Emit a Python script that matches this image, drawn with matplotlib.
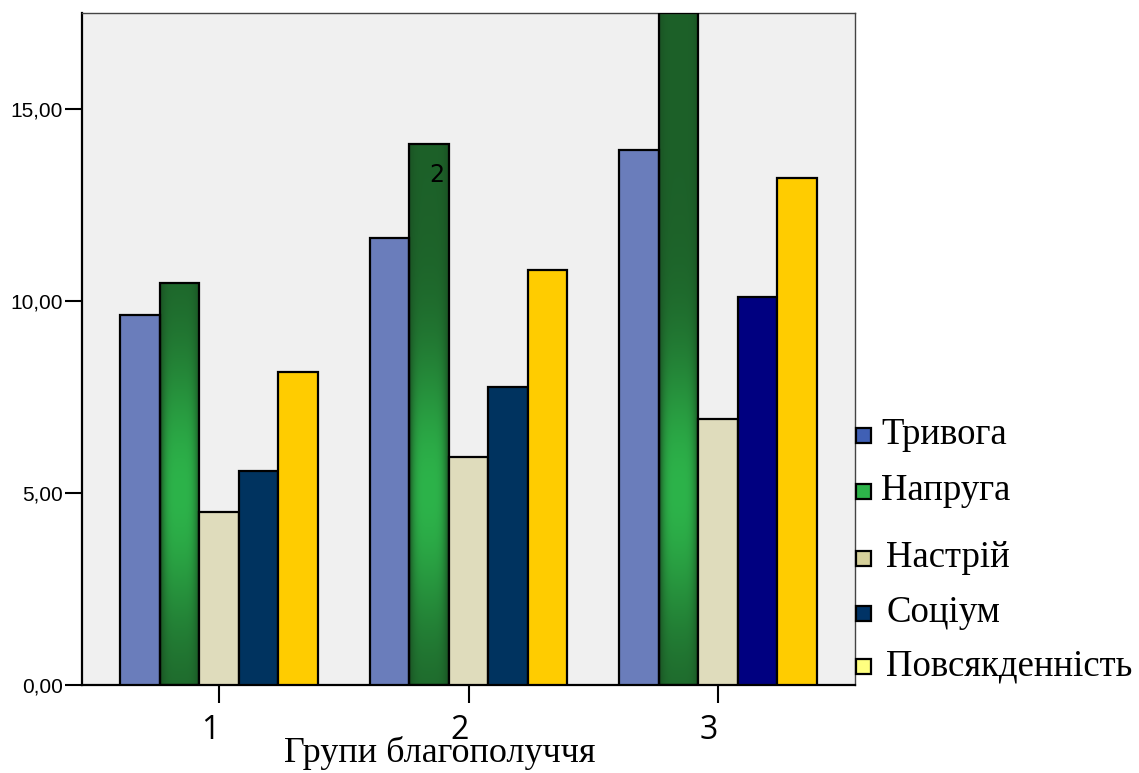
import matplotlib
matplotlib.use("Agg")
import matplotlib.pyplot as plt
import matplotlib.transforms as mtransforms
from matplotlib.patches import Rectangle
import numpy as np

groups = ["1", "2", "3"]
series = ["Тривога", "Напруга", "Настрій", "Соціум", "Повсякденність"]

trivoha = [9.63, 11.63, 13.93]
napruha = [10.46, 14.08, 17.5]
nastrii = [4.5, 5.95, 6.93]
sotsium = [5.57, 7.75, 10.1]
povsyak = [8.16, 10.81, 13.2]
values = [trivoha, napruha, nastrii, sotsium, povsyak]

bar_colors = ["#6a7dbb", None, "#dfdcbc", "#00335f", "#ffcc00"]
sotsium_colors = ["#00335f", "#00335f", "#000080"]
legend_colors = ["#4060b5", "#2db34a", "#d6d09a", "#003366", "#ffff80"]

fig = plt.figure(figsize=(11.39, 7.73), dpi=100)
ax = fig.add_axes([0.072, 0.1138, 0.6787, 0.8694])
ax.set_facecolor("#f0f0f0")

x = np.arange(len(groups))
w = 0.1586
ymax = 17.5

dark = np.array([0x1a, 0x52, 0x23]) / 255
bright = np.array([0x2d, 0xb3, 0x4a]) / 255

def green_fill(x0, x1, top):
    # vertical glow centred low in the bar, darker edges left/right
    ny, nx = 200, 40
    yy = np.linspace(top, 0, ny)[:, None]
    xx = np.linspace(0, 1, nx)[None, :]
    tv = np.exp(-((yy - 5.0) / 3.6) ** 2)
    th = 1 - np.abs(2 * xx - 1) ** 4
    t = (0.15 + 0.85 * tv) * th
    img = dark + (bright - dark) * t[..., None]
    ax.imshow(img, extent=(x0, x1, 0, top), aspect="auto", zorder=2,
              interpolation="bilinear")

for i, (name, vals) in enumerate(zip(series, values)):
    pos = x + (i - 2) * w
    for j, (p, v) in enumerate(zip(pos, vals)):
        if i == 1:
            green_fill(p - w / 2, p + w / 2, v)
            ax.bar(p, v, w, facecolor="none", edgecolor="black",
                   linewidth=1.6, zorder=3)
        else:
            c = sotsium_colors[j] if i == 3 else bar_colors[i]
            ax.bar(p, v, w, color=c, edgecolor="black", linewidth=1.6,
                   zorder=3)

# stray label inside the middle group's bar
ax.text(x[1] - w + 0.03, napruha[1] - 0.8, "2", fontsize=17,
        family="DejaVu Sans", ha="center", va="center", zorder=4)

ax.set_xlim(-0.55, 2.55)
ax.set_ylim(0, ymax)
ax.set_xticks(x)
ax.set_xticklabels(groups, fontsize=23, family="Open Sans")
ax.set_yticks([0, 5, 10, 15])
ax.set_yticklabels(["0,00", "5,00", "10,00", "15,00"], fontsize=15,
                   family="Liberation Sans")
ax.tick_params(axis="y", length=12, width=1.5, pad=2)
ax.tick_params(axis="x", length=13, width=1.5, pad=8)

# group numbers sit a little left of their ticks
shift = mtransforms.ScaledTranslation(-9 / 100, 0, fig.dpi_scale_trans)
for lbl in ax.get_xticklabels():
    lbl.set_transform(lbl.get_transform() + shift)

for s in ["left", "bottom"]:
    ax.spines[s].set_linewidth(1.6)
    ax.spines[s].set_color("black")
for s in ["top", "right"]:
    ax.spines[s].set_linewidth(1.0)
    ax.spines[s].set_color("#444444")

fig.text(0.386, 0.026, "Групи благополуччя", fontsize=26,
         family="Liberation Serif", ha="center", va="center")

# legend drawn by hand beside the plot
sw = 15 / 1139
sh = 15 / 773
leg_y = [435, 491, 558, 613, 666]
txt_x = [881, 881, 886, 886, 886]
for name, col, yp, tx in zip(series, legend_colors, leg_y, txt_x):
    yc = 1 - yp / 773
    fig.patches.append(Rectangle((856 / 1139, yc - sh / 2), sw, sh,
                                 facecolor=col, edgecolor="black",
                                 linewidth=1.6, transform=fig.transFigure))
    fig.text(tx / 1139, yc, name, fontsize=26.5, family="Liberation Serif",
             ha="left", va="center")

fig.savefig("out.png", dpi=100)
